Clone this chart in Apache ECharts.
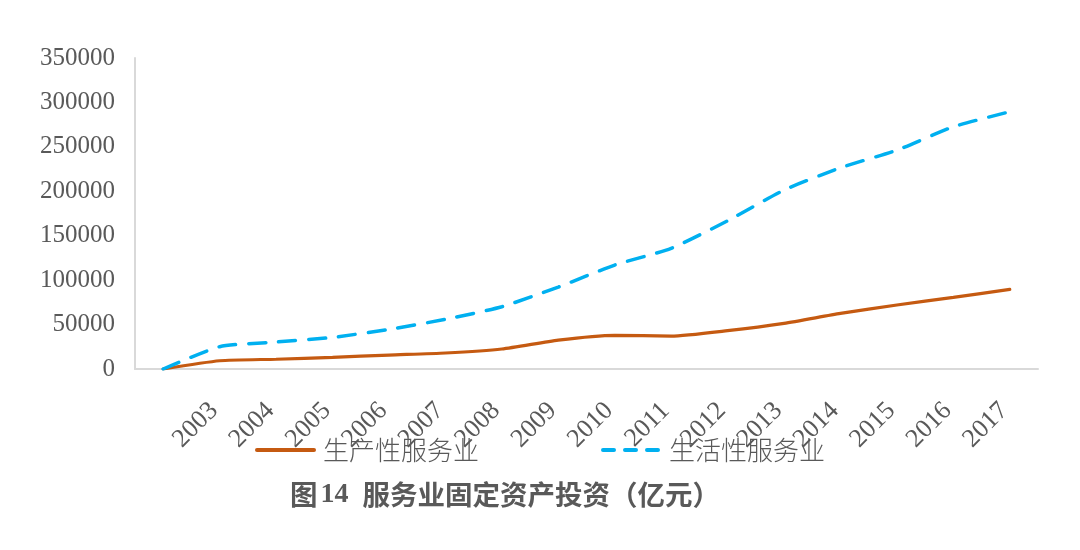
<!DOCTYPE html>
<html lang="zh">
<head>
<meta charset="UTF-8">
<title>服务业固定资产投资</title>
<script src="https://cdn.jsdelivr.net/npm/echarts@6/dist/echarts.min.js"></script>
<style>
  html, body { margin: 0; padding: 0; background: #fff; }
  #chart { width: 1080px; height: 550px; }
</style>
</head>
<body>
<div id="chart"></div>
<script>
// 年份（第一个类别无标签，两条线都从 0 起）
var years = ['', '2003', '2004', '2005', '2006', '2007', '2008', '2009', '2010',
  '2011', '2012', '2013', '2014', '2015', '2016', '2017'];
// 生产性服务业
var producer = [0, 9300, 11000, 13100, 15700, 18000, 22500, 32500, 37900,
  37000, 43100, 51400, 62600, 72000, 80600, 89600];
// 生活性服务业
var consumer = [0, 25100, 30400, 35600, 44600, 55900, 70100, 92200, 117000,
  135800, 166800, 201400, 226500, 246300, 272600, 289500];

var gray = '#595959';
var myChart = echarts.init(document.getElementById('chart'));

var options = {
  animation: false,
  title: {
    text: '{a|图}{b|14}{a|服务业固定资产投资（亿元）}',
    left: 290,
    top: 481,
    padding: 0,
    textStyle: {
      rich: {
        a: {
          fontFamily: 'Noto Sans CJK SC',
          fontSize: 27.5,
          fontWeight: 'bold',
          color: gray
        },
        b: {
          fontFamily: 'Liberation Serif',
          fontSize: 28,
          color: gray,
          padding: [0, 14, 0, 3]
        }
      }
    }
  },
  legend: {
    left: 255,
    top: 437,
    padding: 0,
    itemWidth: 57,
    itemHeight: 14,
    itemGap: 122,
    itemStyle: { opacity: 0 },
    lineStyle: { width: 4, cap: 'round' },
    textStyle: {
      fontFamily: 'Noto Sans CJK SC',
      fontSize: 26,
      fontWeight: 300,
      color: gray,
      padding: [0, 0, 0, 4]
    },
    data: [
      { name: '生产性服务业' },
      { name: '生活性服务业', lineStyle: { type: [11, 11], width: 4, cap: 'round' } }
    ]
  },
  grid: {
    left: 135,
    right: 42,
    top: 58,
    bottom: 181,
    containLabel: false
  },
  xAxis: {
    type: 'category',
    data: years,
    boundaryGap: true,
    axisLine: { lineStyle: { color: '#D9D9D9', width: 2 } },
    axisTick: { show: false },
    axisLabel: {
      rotate: 45,
      interval: 0,
      margin: 32,
      padding: [0, 8, 0, 0],
      fontFamily: 'Liberation Serif',
      fontSize: 26,
      color: gray
    }
  },
  yAxis: {
    type: 'value',
    min: 0,
    max: 350000,
    interval: 50000,
    axisLine: { show: true, lineStyle: { color: '#D9D9D9', width: 2 } },
    axisTick: { show: false },
    splitLine: { show: false },
    axisLabel: {
      margin: 20,
      fontFamily: 'Liberation Serif',
      fontSize: 25,
      color: gray,
      formatter: function (v) { return String(v); }
    }
  },
  series: [{
    name: '生产性服务业',
    type: 'line',
    data: producer,
    smooth: 0.2,
    symbol: 'none',
    itemStyle: { color: '#C55A11' },
    lineStyle: { color: '#C55A11', width: 3.2, cap: 'round' }
  }, {
    name: '生活性服务业',
    type: 'line',
    data: consumer,
    smooth: 0.2,
    symbol: 'none',
    itemStyle: { color: '#00B0F0' },
    lineStyle: { color: '#00B0F0', width: 3.5, type: [17, 13], cap: 'round' }
  }]
};

myChart.setOption(options);
</script>
</body>
</html>
